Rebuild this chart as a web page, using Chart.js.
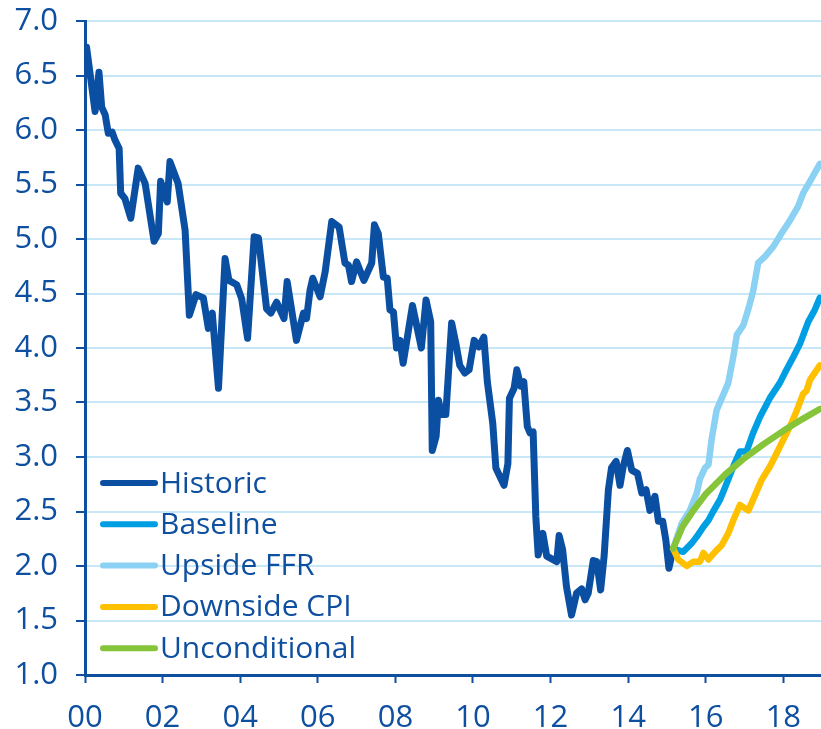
<!DOCTYPE html>
<html>
<head>
<meta charset="utf-8">
<script src="https://cdn.jsdelivr.net/npm/chart.js@4.4.1/dist/chart.umd.min.js"></script>
<style>
  html, body { margin: 0; padding: 0; background: #ffffff; }
  #wrap { width: 821px; height: 729px; position: relative; }
</style>
</head>
<body>
<div id="wrap"><canvas id="c" width="821" height="729"></canvas></div>
<script>
// ---- Data (x = years since 2000) ----
const xTickLabels = ["00","02","04","06","08","10","12","14","16","18"];
const yTicks = [1.0,1.5,2.0,2.5,3.0,3.5,4.0,4.5,5.0,5.5,6.0,6.5,7.0];

const historicX = [0.04,0.26,0.36,0.43,0.52,0.60,0.70,0.77,0.88,0.92,1.03,1.18,1.37,1.55,1.78,1.89,1.95,2.12,2.19,2.40,2.58,2.69,2.86,3.05,3.18,3.28,3.44,3.61,3.71,3.91,4.04,4.19,4.36,4.47,4.68,4.79,4.94,5.13,5.21,5.45,5.63,5.71,5.80,5.87,6.06,6.19,6.36,6.55,6.70,6.79,6.87,7.00,7.19,7.39,7.46,7.56,7.69,7.79,7.86,7.95,8.03,8.12,8.20,8.44,8.67,8.79,8.91,8.95,9.05,9.11,9.19,9.30,9.45,9.56,9.66,9.79,9.90,10.03,10.15,10.28,10.37,10.51,10.59,10.80,10.90,10.94,11.06,11.13,11.23,11.31,11.40,11.47,11.55,11.62,11.68,11.80,11.90,12.16,12.22,12.31,12.41,12.54,12.67,12.80,12.89,12.97,13.10,13.19,13.29,13.38,13.49,13.57,13.69,13.79,13.87,13.98,14.09,14.24,14.35,14.46,14.56,14.69,14.78,14.89,14.97,15.05,15.16];
const historicY = [6.76,6.17,6.53,6.21,6.14,5.97,5.98,5.91,5.83,5.42,5.37,5.19,5.65,5.51,4.98,5.05,5.53,5.34,5.71,5.51,5.08,4.30,4.49,4.46,4.18,4.32,3.63,4.82,4.62,4.58,4.45,4.09,5.02,5.01,4.36,4.32,4.42,4.27,4.61,4.07,4.32,4.27,4.53,4.64,4.47,4.70,5.16,5.11,4.78,4.76,4.61,4.79,4.62,4.78,5.13,5.05,4.65,4.64,4.35,4.33,4.00,4.07,3.86,4.39,4.00,4.44,4.24,3.06,3.19,3.52,3.39,3.39,4.23,4.04,3.84,3.77,3.80,4.07,4.01,4.10,3.69,3.31,2.90,2.74,2.94,3.54,3.63,3.80,3.65,3.69,3.28,3.22,3.23,2.45,2.10,2.30,2.09,2.04,2.28,2.15,1.81,1.55,1.75,1.79,1.69,1.75,2.05,2.04,1.78,2.09,2.70,2.90,2.96,2.74,2.91,3.06,2.88,2.85,2.67,2.70,2.51,2.64,2.41,2.41,2.24,1.98,2.16];

const baselineX = [15.16,15.42,15.64,15.77,15.94,16.07,16.19,16.37,16.54,16.73,16.88,17.05,17.22,17.40,17.65,17.91,18.08,18.26,18.43,18.64,18.81,18.94];
const baselineY = [2.16,2.13,2.21,2.27,2.36,2.42,2.50,2.61,2.76,2.93,3.05,3.05,3.22,3.37,3.54,3.68,3.80,3.92,4.04,4.24,4.35,4.46];

const upsideX = [15.16,15.38,15.59,15.77,15.85,15.98,16.07,16.15,16.28,16.45,16.58,16.71,16.80,16.97,17.10,17.22,17.35,17.53,17.74,17.95,18.17,18.38,18.51,18.69,18.94];
const upsideY = [2.16,2.39,2.51,2.67,2.80,2.90,2.93,3.16,3.43,3.57,3.68,3.92,4.12,4.21,4.36,4.52,4.78,4.84,4.93,5.05,5.17,5.30,5.42,5.53,5.69];

const downsideX = [15.16,15.29,15.51,15.68,15.85,15.94,16.07,16.24,16.41,16.58,16.71,16.88,17.10,17.27,17.44,17.65,17.82,18.00,18.17,18.34,18.51,18.60,18.69,18.94];
const downsideY = [2.16,2.06,2.00,2.04,2.04,2.12,2.06,2.13,2.19,2.30,2.42,2.56,2.51,2.65,2.79,2.91,3.03,3.16,3.28,3.42,3.58,3.61,3.71,3.84];

const uncondX = [15.16,15.40,15.68,16.00,16.50,17.00,17.50,18.00,18.50,18.94];
const uncondY = [2.16,2.36,2.51,2.66,2.84,2.99,3.12,3.24,3.35,3.44];

// ---- Styling ----
const TEXT = "#0e4f9f";
const GRID = "#c8e8f7";
const FONT = "'Open Sans', 'DejaVu Sans', sans-serif";
const colors = {
  historic: "#0b4fa3",
  baseline: "#009fe3",
  upside: "#8ad1f3",
  downside: "#ffc000",
  uncond: "#86c43a"
};

function pts(xs, ys) { return xs.map((x, i) => ({ x: x, y: ys[i] })); }

function ds(label, xs, ys, color, order, w) {
  return {
    label: label,
    data: pts(xs, ys),
    borderColor: color,
    backgroundColor: color,
    borderWidth: w,
    pointRadius: 0,
    tension: 0,
    borderJoinStyle: 'round',
    borderCapStyle: 'round',
    order: order
  };
}

const datasets = [
  ds("Historic", historicX, historicY, colors.historic, 5, 7),
  ds("Baseline", baselineX, baselineY, colors.baseline, 3, 6.5),
  ds("Upside FFR", upsideX, upsideY, colors.upside, 4, 6.5),
  ds("Downside CPI", downsideX, downsideY, colors.downside, 2, 6.5),
  ds("Unconditional", uncondX, uncondY, colors.uncond, 1, 6.5)
];

const legendPlugin = {
  id: 'insideLegend',
  afterDraw(chart) {
    const ctx = chart.ctx;
    ctx.save();
    ctx.font = "30px " + FONT;
    ctx.textBaseline = 'middle';
    ctx.textAlign = 'left';
    const x0 = 103, x1 = 155, tx = 160, y0 = 483, dy = 41.3;
    chart.data.datasets.forEach((d, i) => {
      const y = y0 + dy * i;
      ctx.strokeStyle = d.borderColor;
      ctx.lineWidth = 6;
      ctx.lineCap = 'round';
      ctx.beginPath();
      ctx.moveTo(x0, y);
      ctx.lineTo(x1, y);
      ctx.stroke();
      ctx.fillStyle = TEXT;
      ctx.fillText(d.label, tx, y + 1);
    });
    ctx.restore();
  }
};

new Chart(document.getElementById('c'), {
  type: 'line',
  data: { datasets: datasets },
  options: {
    responsive: false,
    animation: false,
    devicePixelRatio: 1,
    layout: { padding: { top: 21, right: 0, left: 0, bottom: 0 } },
    plugins: { legend: { display: false }, tooltip: { enabled: false } },
    scales: {
      x: {
        type: 'linear',
        min: 0,
        max: 18.97,
        afterFit(scale) {
          scale.height = 54;
          scale.paddingLeft = 0; scale.paddingRight = 0;
        },
        afterBuildTicks(scale) {
          scale.ticks = xTickLabels.map((l, i) => ({ value: i * 2 }));
        },
        ticks: {
          autoSkip: false,
          maxRotation: 0,
          color: TEXT,
          font: { family: FONT, size: 31 },
          padding: 17,
          callback: (v, i) => xTickLabels[i]
        },
        grid: {
          drawOnChartArea: false,
          drawTicks: true,
          tickLength: 8,
          tickColor: TEXT,
          tickWidth: 2
        },
        border: { display: true, color: TEXT, width: 3 }
      },
      y: {
        type: 'linear',
        min: 1,
        max: 7,
        afterFit(scale) {
          scale.width = 85;
          scale.paddingTop = 0; scale.paddingBottom = 0;
        },
        afterBuildTicks(scale) {
          scale.ticks = yTicks.map(v => ({ value: v }));
        },
        ticks: {
          color: TEXT,
          font: { family: FONT, size: 31 },
          padding: 18,
          callback: (v) => Number(v).toFixed(1)
        },
        grid: {
          color: GRID,
          lineWidth: 2,
          drawTicks: true,
          tickLength: 9,
          tickColor: TEXT,
          tickWidth: 2
        },
        border: { display: true, color: TEXT, width: 3 }
      }
    }
  },
  plugins: [legendPlugin]
});
</script>
</body>
</html>
